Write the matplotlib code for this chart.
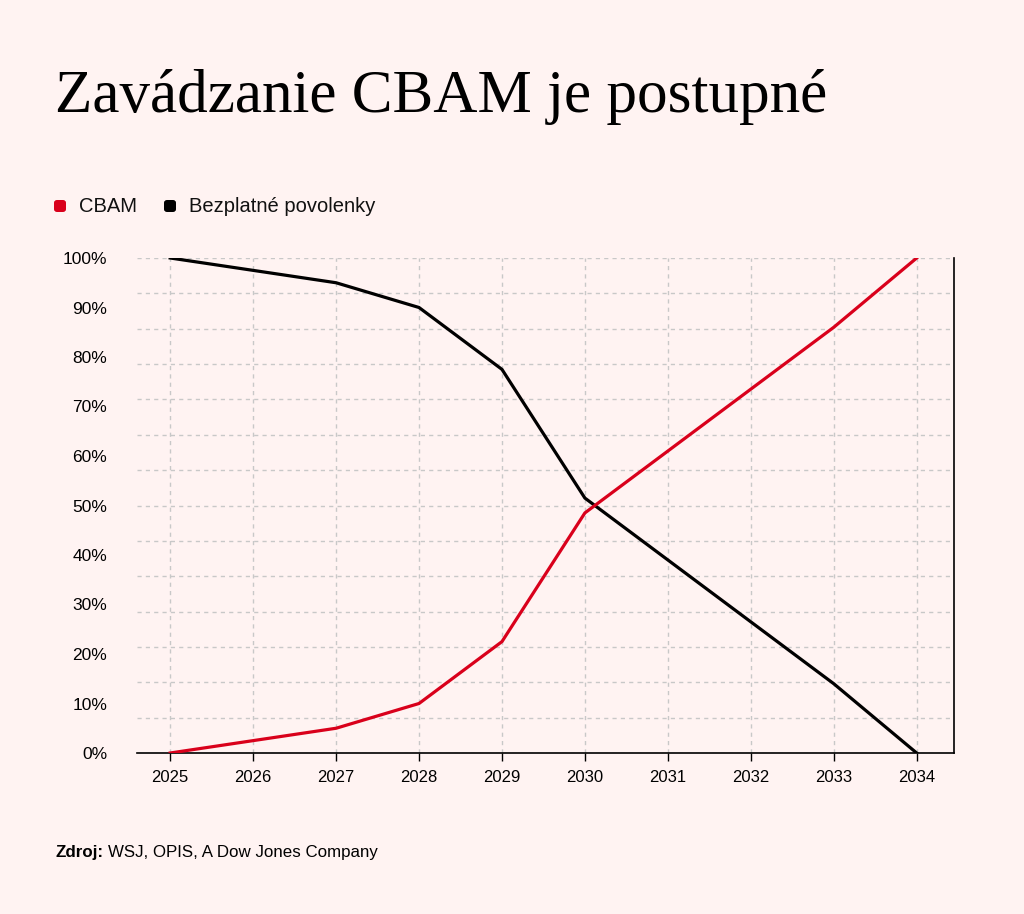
import matplotlib
matplotlib.use("Agg")
import matplotlib.pyplot as plt
from matplotlib.patches import FancyBboxPatch
import numpy as np

years = [2025, 2026, 2027, 2028, 2029, 2030, 2031, 2032, 2033, 2034]
cbam = [0, 2.5, 5, 10, 22.5, 48.5, 61, 73.5, 86, 100]
free_allow = [100, 97.5, 95, 90, 77.5, 51.5, 39, 26.5, 14, 0]
y_ticks = [0, 10, 20, 30, 40, 50, 60, 70, 80, 90, 100]
y_labels = [f"{v}%" for v in y_ticks]

BG = "#fff3f2"
RED = "#d9001b"
BLACK = "#000000"
GRID = "#c8c8c8"

plt.rcParams['font.family'] = ['Liberation Sans', 'DejaVu Sans']

fig = plt.figure(figsize=(10.24, 9.14), dpi=100, facecolor=BG)
ax = fig.add_axes([137/1024, 1-753/914, (954-137)/1024, (753-258)/914])
ax.set_facecolor(BG)

# grid
for g in np.linspace(0, 100, 15):
    ax.axhline(g, color=GRID, lw=1.0, ls=(0, (3, 3)), zorder=1)
for yr in years:
    ax.axvline(yr, color=GRID, lw=1.0, ls=(0, (3, 3)), zorder=1)

ax.plot(years, free_allow, color=BLACK, lw=2.3, zorder=3, solid_joinstyle='miter')
ax.plot(years, cbam, color=RED, lw=2.3, zorder=3, solid_joinstyle='miter')

ax.set_xlim(2024.6, 2034.45)
ax.set_ylim(0, 100)
ax.set_xticks(years)
ax.set_xticklabels([str(y) for y in years], fontsize=12)
ax.set_yticks(y_ticks)
ax.set_yticklabels(y_labels, fontsize=12.5)
ax.tick_params(axis='y', length=0, pad=21.5)
ax.tick_params(axis='x', length=6, width=1, color=BLACK, pad=6)
ax.spines['top'].set_visible(False)
ax.spines['left'].set_visible(False)
ax.spines['right'].set_color(BLACK)
ax.spines['bottom'].set_color(BLACK)
ax.spines['right'].set_linewidth(1.2)
ax.spines['bottom'].set_linewidth(1.2)

# title
fig.text(55/1024, 1-97/914, "Zavádzanie CBAM je postupné", family=['Liberation Serif'],
         fontsize=44, va='center', ha='left', color='#000000')

# legend
def legend_item(x, color, label):
    s = 12
    box = FancyBboxPatch((x/1024, (914-206-s/2)/914), s/1024, s/914,
                         boxstyle="round,pad=0,rounding_size=0.003",
                         transform=fig.transFigure, facecolor=color, edgecolor='none')
    fig.patches.append(box)
    fig.text((x+s+13)/1024, 1-206/914, label, fontsize=14.5, va='center', ha='left', color='#111111')

legend_item(54, RED, "CBAM")
legend_item(164, BLACK, "Bezplatné povolenky")

# source
fig.canvas.draw()
t = fig.text(55/1024, 1-852/914, "Zdroj:", fontsize=12.2, fontweight='bold', va='center', ha='left')
r = fig.canvas.get_renderer()
bb = t.get_window_extent(r)
fig.text((bb.x1 + 5)/1024, 1-852/914, "WSJ, OPIS, A Dow Jones Company", fontsize=12.2, va='center', ha='left')

fig.savefig("out.png", dpi=100, facecolor=BG)
